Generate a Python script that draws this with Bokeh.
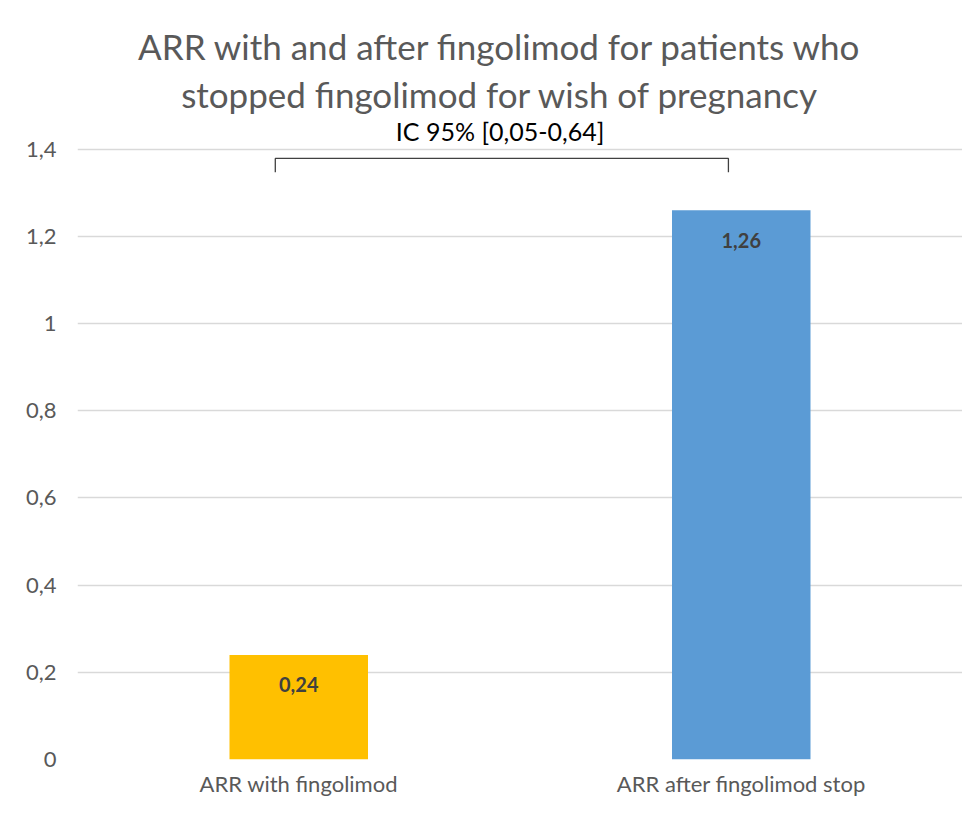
from bokeh.plotting import figure
from bokeh.models import ColumnDataSource, FixedTicker, CustomJSTickFormatter, LabelSet, FactorRange, Range1d
from bokeh.core.properties import value
from bokeh.embed import file_html
from bokeh.resources import INLINE

# ---- data ----
categories = ["ARR with fingolimod", "ARR after fingolimod stop"]
arr_values = [0.24, 1.26]
bar_labels = ["0,24", "1,26"]
bar_colors = ["#FFC000", "#5B9BD5"]
y_ticks = [0, 0.2, 0.4, 0.6, 0.8, 1.0, 1.2, 1.4]
title_lines = ["ARR with and after fingolimod for patients who",
               "stopped fingolimod for wish of pregnancy"]
ci_text = "IC 95% [0,05-0,64]"

# annotation positions (synthetic x coordinates, data y)
bracket_x = [0.447, 0.447, 1.471, 1.471]
bracket_y = [1.347, 1.379, 1.379, 1.347]
title_x = 0.955
title_y = [1.636, 1.526]
ci_y = 1.441

FONT = "Lato"
GRAY = "#595959"

p = figure(x_range=FactorRange(*categories, range_padding=0), y_range=Range1d(0, 1.70),
           width=962, height=800, output_backend="svg", toolbar_location=None,
           min_border_left=77, min_border_right=0, min_border_top=18, min_border_bottom=41)

src = ColumnDataSource(dict(cat=categories, val=arr_values, lab=bar_labels, col=bar_colors))
p.vbar(x="cat", top="val", width=0.313, fill_color="col", line_color=None, source=src)

p.add_layout(LabelSet(x="cat", y="val", text="lab", source=src, y_offset=-30,
                      text_align="center", text_baseline="middle",
                      text_font=value(FONT), text_font_style="bold",
                      text_font_size="20px", text_color="#404040"))

# bracket
p.line(bracket_x, bracket_y, line_color="#404040", line_width=1.3)

# titles
p.text(x=[title_x, title_x], y=title_y, text=title_lines, text_align="center",
       text_baseline="middle", text_font=value(FONT), text_font_size="35px", text_color=GRAY)
p.text(x=[title_x], y=[ci_y], text=[ci_text], text_align="center",
       text_baseline="middle", text_font=value(FONT), text_font_size="25px", text_color="#000000")

# axes / grid
p.yaxis.ticker = FixedTicker(ticks=y_ticks)
p.yaxis.formatter = CustomJSTickFormatter(code="return (Math.round(tick*10)/10).toString().replace('.', ',');")
for ax in (p.xaxis, p.yaxis):
    ax.axis_line_color = None
    ax.major_tick_line_color = None
    ax.minor_tick_line_color = None
    ax.major_label_text_font = FONT
    ax.major_label_text_font_size = "22px"
    ax.major_label_text_color = GRAY
p.yaxis.major_label_standoff = 15
p.xaxis.major_label_standoff = 4
p.xgrid.grid_line_color = None
p.ygrid.grid_line_color = "#D9D9D9"
p.ygrid.grid_line_width = 1.5
p.outline_line_color = None
p.background_fill_color = "white"
p.border_fill_color = "white"

open("out.html", "w").write(file_html(p, INLINE))
